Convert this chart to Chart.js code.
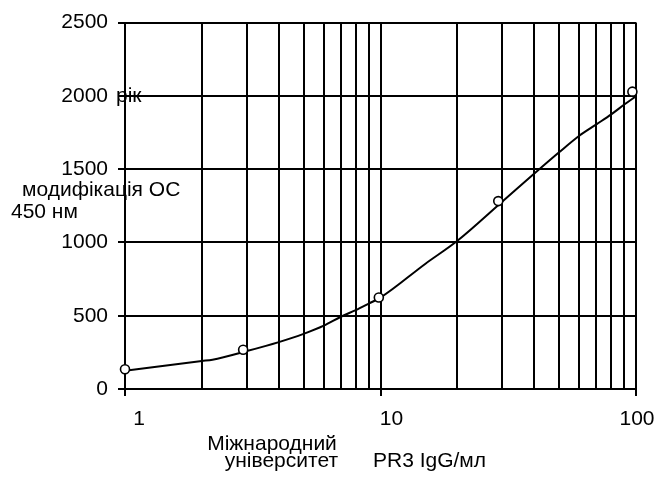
<!DOCTYPE html>
<html>
<head>
<meta charset="utf-8">
<script src="https://cdn.jsdelivr.net/npm/chart.js@4.4.0/dist/chart.umd.min.js"></script>
<style>
  html, body { margin: 0; padding: 0; background: #fff; }
  #wrap { width: 656px; height: 480px; }
</style>
</head>
<body>
<div id="wrap"><canvas id="curva"></canvas></div>
<script>
// точки калібраторів (PR3 IgG/мл -> OD)
var concPoints = [1, 2.9, 9.85, 28.9, 96.8];
var odPoints = [135, 268, 624, 1282, 2029];

// апроксимуюча крива
var curveConc = [1, 2, 2.2, 3, 4, 5, 6, 7, 8, 9, 10, 15, 20, 30, 40, 50, 60, 70, 80, 90, 100];
var curveOd = [124, 191, 200, 259, 320, 376, 432, 493, 538, 583, 624, 855, 1011, 1279, 1470, 1615, 1728, 1806, 1874, 1941, 1998];

// сітка та підписи осей
var xGrid = [1, 2, 3, 4, 5, 6, 7, 8, 9, 10, 20, 30, 40, 50, 60, 70, 80, 90, 100];
var xLabels = [1, 10, 100];
var yTicks = [0, 500, 1000, 1500, 2000, 2500];

var FONT = '21px "Liberation Sans", Arial, sans-serif';
Chart.defaults.font.family = '"Liberation Sans", Arial, sans-serif';
Chart.defaults.color = '#000';

function toXY(xs, ys) {
    return xs.map(function(x, i) { return { x: x, y: ys[i] }; });
}

var textos = {
    id: 'textos',
    afterDraw: function(chart) {
        var ctx = chart.ctx;
        var xs = chart.scales.x, ys = chart.scales.y;
        ctx.save();
        ctx.fillStyle = '#000';
        ctx.font = FONT;

        // підписи осі X
        var shift = [14, 11, 1];
        ctx.textAlign = 'center';
        ctx.textBaseline = 'alphabetic';
        xLabels.forEach(function(v, i) {
            ctx.fillText(String(v), xs.getPixelForValue(v) + shift[i], 425);
        });

        // назви осей
        ctx.fillText('Міжнародний', 272, 450);
        ctx.textAlign = 'right';
        ctx.fillText('університет', 338, 467);
        ctx.textAlign = 'left';
        ctx.fillText('PR3 IgG/мл', 373, 467);

        ctx.fillText('модифікація ОС', 22, 196);
        ctx.fillText('450 нм', 11, 218);

        ctx.textBaseline = 'middle';
        ctx.fillText('pік', 116, ys.getPixelForValue(2000));
        ctx.restore();
    }
};

new Chart(document.getElementById('curva'), {
    type: 'scatter',
    data: {
        datasets: [
            {
                data: toXY(curveConc, curveOd),
                showLine: true,
                borderColor: '#000',
                borderWidth: 2,
                pointRadius: 0,
                cubicInterpolationMode: 'monotone',
                order: 2
            },
            {
                data: toXY(concPoints, odPoints),
                showLine: false,
                pointRadius: 4.5,
                pointBackgroundColor: '#fff',
                pointBorderColor: '#000',
                pointBorderWidth: 1.6,
                clip: false,
                order: 1
            }
        ]
    },
    options: {
        responsive: true,
        maintainAspectRatio: false,
        animation: false,
        layout: { padding: { top: 19, right: 20, bottom: 0, left: 0 } },
        plugins: {
            legend: { display: false },
            tooltip: { enabled: false }
        },
        scales: {
            x: {
                type: 'logarithmic',
                min: 1,
                max: 100,
                afterBuildTicks: function(s) {
                    s.ticks = xGrid.map(function(v) {
                        return { value: v, major: xLabels.indexOf(v) >= 0 };
                    });
                },
                afterFit: function(s) { s.height = 91; },
                ticks: { display: false },
                grid: {
                    color: '#000',
                    lineWidth: 2,
                    tickLength: 7,
                    tickColor: function(c) {
                        return (c.tick && xLabels.indexOf(c.tick.value) >= 0) ? '#000' : 'rgba(0,0,0,0)';
                    }
                },
                border: { color: '#000', width: 2 }
            },
            y: {
                min: 0,
                max: 2500,
                afterBuildTicks: function(s) {
                    s.ticks = yTicks.map(function(v) { return { value: v }; });
                },
                afterFit: function(s) { s.width = 125; },
                ticks: {
                    font: { size: 21 },
                    color: '#000',
                    padding: 10,
                    callback: function(v) { return String(v); }
                },
                grid: {
                    color: '#000',
                    lineWidth: 2,
                    tickLength: 7
                },
                border: { color: '#000', width: 2 }
            }
        }
    },
    plugins: [textos]
});
</script>
</body>
</html>
